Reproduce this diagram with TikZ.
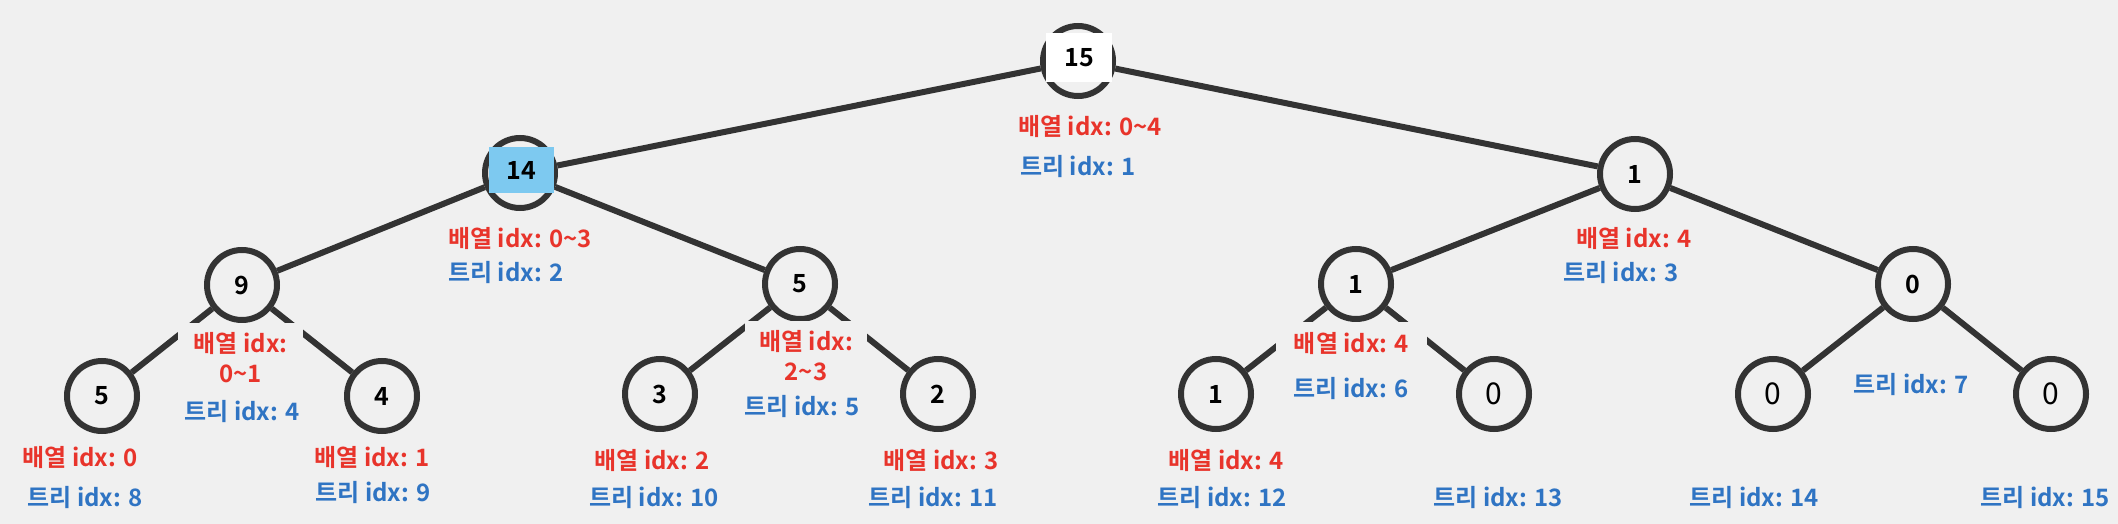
\documentclass[tikz,border=0pt]{standalone}
\usepackage{fontspec}
\setmainfont{Noto Sans CJK KR}[BoldFont={Noto Sans CJK KR Bold}]
\definecolor{bg}{HTML}{F0F0F0}
\definecolor{edgegray}{HTML}{333333}
\definecolor{idxred}{HTML}{E8342B}
\definecolor{idxblue}{HTML}{2F74C3}
\definecolor{hiblue}{HTML}{7DC9F0}
\newcommand{\lblfont}{\fontsize{24}{30}\selectfont\bfseries}
\newcommand{\numfont}{\fontsize{25}{30}\selectfont\bfseries}

\begin{document}
\begin{tikzpicture}[x=1pt,y=-1pt,
  vtx/.style={circle,draw=edgegray,line width=6pt,fill=bg,minimum size=70pt,inner sep=0pt,font=\numfont},
  thinnum/.style={font=\fontsize{30}{34}\selectfont},
  edge/.style={draw=edgegray,line width=6pt},
  numbox/.style={inner sep=0pt,minimum width=66pt,minimum height=49pt,font=\numfont},
  redlbl/.style={text=idxred,font=\lblfont,inner sep=0pt},
  bluelbl/.style={text=idxblue,font=\lblfont,inner sep=0pt},
  cover/.style={fill=bg,inner xsep=0pt,inner ysep=10pt,align=center}]
\fill[bg] (0,0) rectangle (2118,524);
\useasboundingbox (0,0) rectangle (2118,524);

\node[vtx] (n1) at (1078,61) {};
\node[vtx] (n2) at (520,173) {};
\node[vtx] (n3) at (1635,174) {1};
\node[vtx] (n4) at (242,285) {9};
\node[vtx] (n5) at (800,284) {5};
\node[vtx] (n6) at (1356,284) {1};
\node[vtx] (n7) at (1913,284) {0};
\node[vtx] (n8) at (102,396) {5};
\node[vtx] (n9) at (382,396) {4};
\node[vtx] (n10) at (660,394) {3};
\node[vtx] (n11) at (938,394) {2};
\node[vtx] (n12) at (1216,394) {1};
\node[vtx,thinnum] (n13) at (1494,394) {0};
\node[vtx,thinnum] (n14) at (1773,394) {0};
\node[vtx,thinnum] (n15) at (2051,394) {0};
\node[numbox,fill=white] (n1num) at (1079,57.5) {15};
\node[numbox,fill=hiblue,minimum width=65pt,minimum height=46pt] (n2num) at (521.5,170) {14};

\foreach \p/\c in {n1/n2,n1/n3,n2/n4,n2/n5,n3/n6,n3/n7,n4/n8,n4/n9,n5/n10,n5/n11,n6/n12,n6/n13,n7/n14,n7/n15}
  \draw[edge] (\p) -- (\c);

\node[redlbl,anchor=west] (r1) at (1018,127) {배열 idx: 0\textasciitilde4};
\node[bluelbl,anchor=west] (b1) at (1020,167) {트리 idx: 1};
\node[redlbl,anchor=west] (r2) at (448,238) {배열 idx: 0\textasciitilde3};
\node[bluelbl,anchor=west] (b2) at (448,273) {트리 idx: 2};
\node[redlbl,anchor=west] (r3) at (1576,238) {배열 idx: 4};
\node[bluelbl,anchor=west] (b3) at (1563,273) {트리 idx: 3};
\node[redlbl,cover,minimum width=125pt] (r4) at (240.5,358) {배열 idx:\\0\textasciitilde1};
\node[bluelbl] (b4) at (242,412) {트리 idx: 4};
\node[redlbl,cover,minimum width=122pt] (r5) at (806,356) {배열 idx:\\2\textasciitilde3};
\node[bluelbl] (b5) at (802,407) {트리 idx: 5};
\node[redlbl,cover,minimum width=151pt] (r6) at (1351.5,343) {배열 idx: 4};
\node[bluelbl] (b6) at (1351,389) {트리 idx: 6};
\node[bluelbl] (b7) at (1911,385) {트리 idx: 7};

\node[redlbl] (r8) at (80,457) {배열 idx: 0};
\node[bluelbl] (b8) at (85,498) {트리 idx: 8};
\node[redlbl] (r9) at (372,457) {배열 idx: 1};
\node[bluelbl] (b9) at (373,493) {트리 idx: 9};
\node[redlbl] (r10) at (652,460) {배열 idx: 2};
\node[bluelbl] (b10) at (654,498) {트리 idx: 10};
\node[redlbl] (r11) at (941,460) {배열 idx: 3};
\node[bluelbl] (b11) at (933,498) {트리 idx: 11};
\node[redlbl] (r12) at (1226,460) {배열 idx: 4};
\node[bluelbl] (b12) at (1222,498) {트리 idx: 12};
\node[bluelbl] (b13) at (1498,498) {트리 idx: 13};
\node[bluelbl] (b14) at (1754,498) {트리 idx: 14};
\node[bluelbl] (b15) at (2045,498) {트리 idx: 15};
\end{tikzpicture}
\end{document}
